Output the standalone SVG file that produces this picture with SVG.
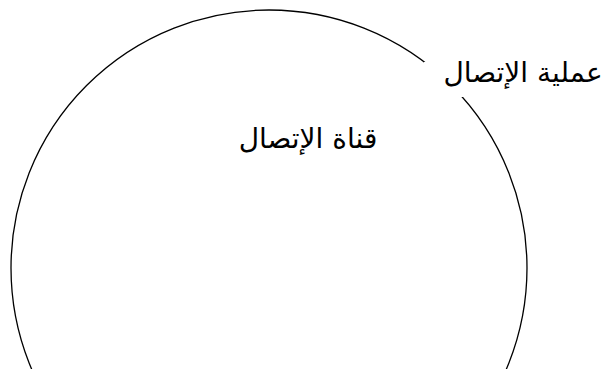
<svg xmlns="http://www.w3.org/2000/svg" width="612" height="369" viewBox="0 0 612 369">
<style>
.lbl{font-family:"DejaVu Sans","Noto Sans",sans-serif;font-size:28px;fill:#000;text-anchor:middle}
</style>
<rect width="612" height="369" fill="#fff"/>
<g id="connectors"></g>
<g id="channel">
<circle cx="269" cy="268" r="258" fill="none" stroke="#000" stroke-width="1.3"/>
<text class="lbl" x="308" y="148" direction="rtl">قناة الإتصال</text>
</g>
<g id="process">
<rect x="424" y="62" width="188" height="35" fill="#fff"/>
<text class="lbl" x="523" y="82" direction="rtl">عملية الإتصال</text>
</g>
</svg>
